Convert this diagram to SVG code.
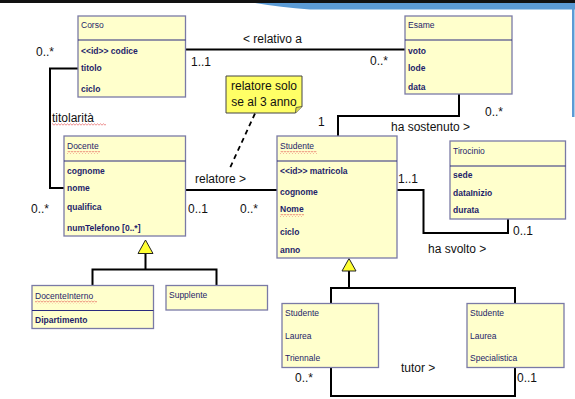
<svg xmlns="http://www.w3.org/2000/svg" width="575" height="399" viewBox="0 0 575 399">
<defs>
<style>
.box{fill:#ffffcc;stroke:#7a7aa6;stroke-width:1.3}
.div{stroke:#2b2b7e;stroke-width:1.1}
.t{font-family:"Liberation Sans",Arial,sans-serif;font-size:8.5px;fill:#1e1e6a}
.b{font-weight:bold}
.lbl{font-family:"Liberation Sans",Arial,sans-serif;font-size:12px;fill:#111}
.con{fill:none;stroke:#000;stroke-width:2}
.tri{fill:#ffff33;stroke:#222;stroke-width:1}
.sq{fill:url(#wavy)}
</style>
<pattern id="wavy" width="3" height="3" patternUnits="userSpaceOnUse">
<path d="M0,2.2 L1.5,0.8 L3,2.2" fill="none" stroke="#e04040" stroke-width="0.6"/>
</pattern>
</defs>
<rect width="575" height="399" fill="#fff"/>
<!-- top decoration -->
<rect x="0" y="0" width="575" height="3" fill="#111"/>
<path d="M255,3 L575,3 L575,9.5 L310,9.5 Q280,7 255,3 Z" fill="#5b9bd5"/>
<rect x="572" y="3" width="2.5" height="114" fill="#5b9bd5"/>

<g id="connectors">
<!-- relativo a -->
<path class="con" d="M185.5,49.5 H405"/>
<!-- titolarita -->
<path class="con" d="M78,68.5 H50 V188 H64"/>
<!-- relatore -->
<path class="con" d="M185.5,190 H277"/>
<!-- ha sostenuto -->
<path class="con" d="M459,94 V116 H338 V136"/>
<!-- ha svolto -->
<path class="con" d="M397,190 H423.5 V233 H508 V219"/>
<!-- tutor -->
<path class="con" d="M331,367.5 V396 H515 V367.5"/>
<!-- generalization Docente -->
<path class="con" d="M145.5,253.5 V269.5 M92.5,285.5 V269.5 H216.5 V285.5"/>
<polygon class="tri" points="145.5,240 138,253.5 153,253.5"/>
<!-- generalization Studente -->
<path class="con" d="M349,271 V288 M331,303.5 V288 H515 V303.5"/>
<polygon class="tri" points="349,258.5 342,271 356,271"/>
<!-- note anchor -->
<path d="M255,113.5 L229,170" fill="none" stroke="#000" stroke-width="1.8" stroke-dasharray="5,4"/>
</g>

<g id="labels">
<text class="lbl" x="36" y="56">0..*</text>
<text class="lbl" x="191" y="66">1..1</text>
<text class="lbl" x="243" y="43">&lt; relativo a</text>
<text class="lbl" x="370" y="65">0..*</text>
<text class="lbl" x="52" y="122">titolarità</text>
<rect class="sq" x="52" y="123" width="54" height="3"/>
<text class="lbl" x="318" y="126">1</text>
<text class="lbl" x="485" y="116">0..*</text>
<text class="lbl" x="391" y="131">ha sostenuto &gt;</text>
<text class="lbl" x="195" y="183">relatore &gt;</text>
<text class="lbl" x="31" y="213">0..*</text>
<text class="lbl" x="188" y="213">0..1</text>
<text class="lbl" x="240" y="213">0..*</text>
<text class="lbl" x="398" y="183">1..1</text>
<text class="lbl" x="513" y="235">0..1</text>
<text class="lbl" x="428" y="253">ha svolto &gt;</text>
<text class="lbl" x="401" y="372">tutor &gt;</text>
<text class="lbl" x="295" y="382">0..*</text>
<text class="lbl" x="517" y="382">0..1</text>
</g>

<g id="note">
<path d="M226,76 H302 V106.5 L295.5,113 H226 Z" fill="#ffff66" stroke="#444" stroke-width="1"/>
<path d="M302,106.5 L296,107.5 L295.5,113" fill="#d8d84a" stroke="#444" stroke-width="0.8"/>
<text class="lbl" x="264" y="90" text-anchor="middle">relatore solo</text>
<text class="lbl" x="264" y="106" text-anchor="middle">se al 3 anno</text>
</g>

<g id="Corso">
<rect class="box" x="78" y="16" width="107.5" height="81"/>
<line class="div" x1="78" y1="40" x2="185.5" y2="40"/>
<text class="t" x="81" y="28">Corso</text>
<text class="t b" x="81" y="53.5">&lt;&lt;id&gt;&gt; codice</text>
<text class="t b" x="81" y="70.5">titolo</text>
<text class="t b" x="81" y="92">ciclo</text>
</g>

<g id="Esame">
<rect class="box" x="405" y="16" width="107" height="78"/>
<line class="div" x1="405" y1="40" x2="512" y2="40"/>
<text class="t" x="408" y="28">Esame</text>
<text class="t b" x="408" y="53.5">voto</text>
<text class="t b" x="408" y="70.5">lode</text>
<text class="t b" x="408" y="90">data</text>
</g>

<g id="Docente">
<rect class="box" x="64" y="136" width="121.5" height="100"/>
<line class="div" x1="64" y1="161" x2="185.5" y2="161"/>
<text class="t" x="67" y="149">Docente</text>
<rect class="sq" x="67" y="151" width="33" height="3"/>
<text class="t b" x="67" y="173.5">cognome</text>
<text class="t b" x="67" y="190.5">nome</text>
<text class="t b" x="67" y="210">qualifica</text>
<text class="t b" x="67" y="231">numTelefono [0..*]</text>
</g>

<g id="Studente">
<rect class="box" x="277" y="136" width="120" height="122"/>
<line class="div" x1="277" y1="161" x2="397" y2="161"/>
<text class="t" x="280" y="149">Studente</text>
<rect class="sq" x="280" y="151" width="37" height="3"/>
<text class="t b" x="280" y="173.5">&lt;&lt;id&gt;&gt; matricola</text>
<text class="t b" x="280" y="194.5">cognome</text>
<text class="t b" x="280" y="212">Nome</text>
<rect class="sq" x="280" y="214" width="24" height="3"/>
<text class="t b" x="280" y="234.5">ciclo</text>
<text class="t b" x="280" y="253">anno</text>
</g>

<g id="Tirocinio">
<rect class="box" x="450" y="141" width="115.5" height="78"/>
<line class="div" x1="450" y1="166" x2="565.5" y2="166"/>
<text class="t" x="453" y="153.5">Tirocinio</text>
<text class="t b" x="453" y="178">sede</text>
<text class="t b" x="453" y="195.5">dataInizio</text>
<text class="t b" x="453" y="213">durata</text>
</g>

<g id="DocenteInterno">
<rect class="box" x="32" y="285.5" width="121.5" height="43"/>
<line class="div" x1="32" y1="310.5" x2="153.5" y2="310.5"/>
<text class="t" x="35" y="298.5">DocenteInterno</text>
<rect class="sq" x="35" y="300.5" width="62" height="3"/>
<text class="t b" x="35" y="323">Dipartimento</text>
</g>

<g id="Supplente">
<rect class="box" x="166" y="285.5" width="101.5" height="24.5"/>
<text class="t" x="169" y="298">Supplente</text>
</g>

<g id="StudenteLaureaTriennale">
<rect class="box" x="282" y="303.5" width="96.5" height="64"/>
<text class="t" x="285" y="315.5">Studente</text>
<text class="t" x="285" y="338.5">Laurea</text>
<text class="t" x="285" y="361">Triennale</text>
</g>

<g id="StudenteLaureaSpecialistica">
<rect class="box" x="467" y="303.5" width="97" height="64"/>
<text class="t" x="470" y="315.5">Studente</text>
<text class="t" x="470" y="338.5">Laurea</text>
<text class="t" x="470" y="361">Specialistica</text>
</g>
</svg>
